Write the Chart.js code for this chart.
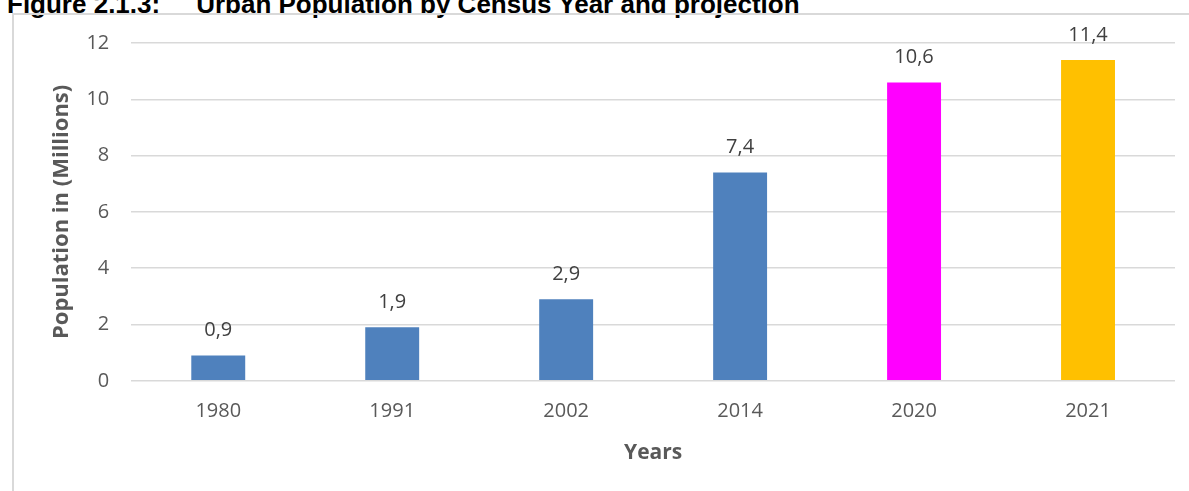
<!DOCTYPE html>
<html>
<head>
<meta charset="utf-8">
<script src="https://cdn.jsdelivr.net/npm/chart.js@4"></script>
<style>
    body { margin: 0; background: #fff; width: 1189px; height: 491px; overflow: hidden; position: relative; }
    #title { position: absolute; left: 7px; top: -9px; font: bold 26px/26px "Liberation Sans", Arial, sans-serif; color: #000; white-space: nowrap; }
    #title span { margin-left: 36px; }
    #box { position: absolute; left: 12px; top: 13px; width: 1200px; height: 500px; border-left: 2px solid #d9d9d9; border-top: 2px solid #d9d9d9; }
    #wrap { position: absolute; left: 14px; top: 9px; width: 1175px; height: 482px; }
</style>
</head>
<body>
<div id="title">Figure 2.1.3:<span>Urban Population by Census Year and projection</span></div>
<div id="box"></div>
<div id="wrap"><canvas id="popChart"></canvas></div>
<script>
const years = ['1980', '1991', '2002', '2014', '2020', '2021'];
const population = [0.9, 1.9, 2.9, 7.4, 10.6, 11.4];
const barColors = ['#4f81bd', '#4f81bd', '#4f81bd', '#4f81bd', '#ff00ff', '#ffc000'];
const yTicks = [0, 2, 4, 6, 8, 10, 12];

const fontFamily = '"Open Sans", "Noto Sans", sans-serif';

// value labels above bars, with comma decimals
const valueLabels = {
    id: 'valueLabels',
    afterDatasetsDraw(chart) {
        const ctx = chart.ctx;
        const meta = chart.getDatasetMeta(0);
        ctx.save();
        ctx.font = '20px ' + fontFamily;
        ctx.fillStyle = '#404040';
        ctx.textAlign = 'center';
        ctx.textBaseline = 'middle';
        meta.data.forEach((bar, i) => {
            ctx.fillText(population[i].toFixed(1).replace('.', ','), bar.x, bar.y - 25);
        });
        ctx.restore();
    }
};

new Chart(document.getElementById('popChart'), {
    type: 'bar',
    data: {
        labels: years,
        datasets: [{
            data: population,
            backgroundColor: barColors,
            categoryPercentage: 1,
            barPercentage: 0.31
        }]
    },
    options: {
        responsive: true,
        maintainAspectRatio: false,
        animation: false,
        layout: {padding: {top: 21, right: 14, left: 35, bottom: 25}},
        plugins: {
            legend: {display: false},
            tooltip: {enabled: false}
        },
        scales: {
            x: {
                grid: {display: false, drawTicks: false},
                border: {display: false},
                ticks: {color: '#595959', font: {family: fontFamily, size: 20}, padding: 18},
                title: {display: true, text: 'Years', color: '#595959', font: {family: fontFamily, size: 21, weight: 'bold'}, padding: {top: 0, bottom: 0}}
            },
            y: {
                min: 0,
                max: 12,
                afterBuildTicks(axis) {
                    axis.ticks = yTicks.map(v => ({value: v}));
                },
                grid: {color: '#d9d9d9', lineWidth: 1.5, drawTicks: false},
                border: {display: false},
                ticks: {color: '#595959', font: {family: fontFamily, size: 20}, padding: 22},
                title: {display: true, text: 'Population in (Millions)', color: '#595959', font: {family: fontFamily, size: 22, weight: 'bold'}, padding: {top: 0, bottom: -11}}
            }
        }
    },
    plugins: [valueLabels]
});
</script>
</body>
</html>
